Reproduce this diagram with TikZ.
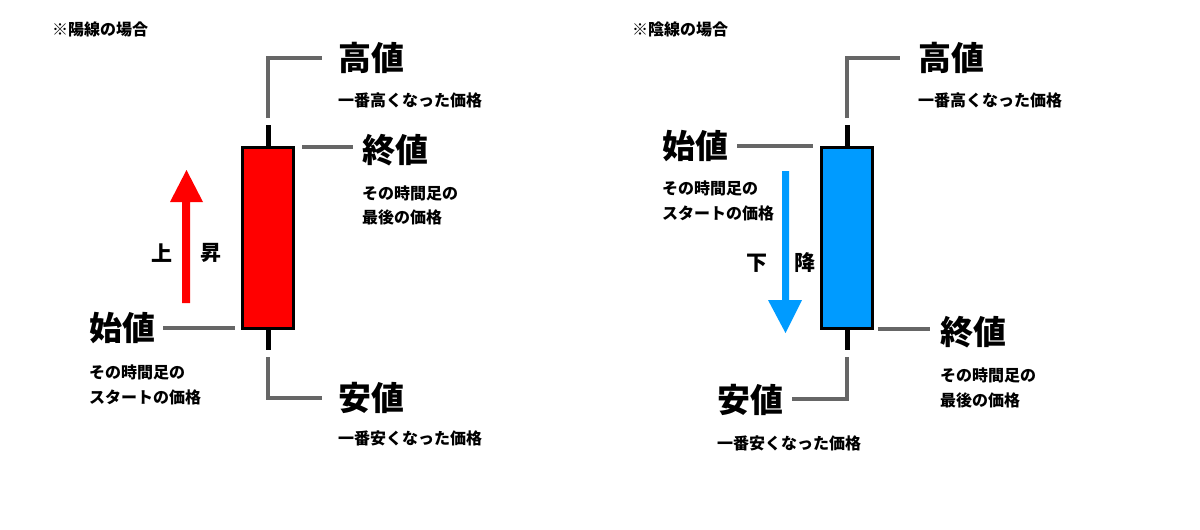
\documentclass[tikz,border=0pt]{standalone}
\usepackage{fontspec}
\setmainfont{Noto Sans CJK JP}
\definecolor{leadgray}{RGB}{102,102,102}
\definecolor{upred}{RGB}{255,0,0}
\definecolor{downblue}{RGB}{0,155,255}
\tikzset{
  big/.style={font=\fontsize{33}{33}\selectfont\bfseries, anchor=west, inner sep=0pt},
  small/.style={font=\fontsize{16}{16}\selectfont\bfseries, anchor=west, inner sep=0pt},
  ttl/.style={font=\fontsize{16}{16}\selectfont\bfseries, anchor=west, inner sep=0pt},
  dirlab/.style={font=\fontsize{21}{21}\selectfont\bfseries, inner sep=0pt},
  lead/.style={draw=leadgray, line width=4pt, line join=miter},
  wick/.style={draw=black, line width=5pt},
  body/.style={draw=black, line width=3pt, minimum width=51pt, minimum height=181pt, inner sep=0pt},
}
\begin{document}
\begin{tikzpicture}[x=1pt,y=-1pt]
\useasboundingbox[fill=white] (0,0) rectangle (1200,530);

% ---------------- left: bullish ----------------
\node[ttl] (t1) at (52,29) {※陽線の場合};
\node[body, fill=upred] (b1) at (268,238) {};
\coordinate (w1t) at (268,125);
\coordinate (w1b) at (268,350);
\draw[wick] (w1t) -- (b1.north);
\draw[wick] (b1.south) -- (w1b);

\node[big] (hi1) at (338,58) {高値};
\node[small] (hi1s) at (338,100) {一番高くなった価格};
\coordinate (hi1a) at (268,118);
\coordinate (hi1b) at (322,58);
\draw[lead] (hi1a) |- (hi1b);

\node[big] (cl1) at (362,150) {終値};
\node[small] (cl1s) at (362,193) {その時間足の};
\node[small] (cl1t) at (362,217) {最後の価格};
\coordinate (cl1a) at (302,147);
\coordinate (cl1b) at (353,147);
\draw[lead] (cl1a) -- (cl1b);

\node[big] (op1) at (89,328) {始値};
\node[small] (op1s) at (89,372) {その時間足の};
\node[small] (op1t) at (89,397) {スタートの価格};
\coordinate (op1a) at (163,328);
\coordinate (op1b) at (235,328);
\draw[lead] (op1a) -- (op1b);

\node[big] (lo1) at (338,398) {安値};
\node[small] (lo1s) at (338,438) {一番安くなった価格};
\coordinate (lo1a) at (268,357);
\coordinate (lo1b) at (322,398);
\draw[lead] (lo1a) |- (lo1b);

\fill[upred] (182,303) -- (182,202) -- (170,202) -- (186.5,170) -- (203,202) -- (190,202) -- (190,303) -- cycle;
\node[dirlab] (u1) at (162,253) {上};
\node[dirlab] (u2) at (211,253) {昇};

% ---------------- right: bearish ----------------
\node[ttl] (t2) at (632,29) {※陰線の場合};
\node[body, fill=downblue] (b2) at (847,238) {};
\coordinate (w2t) at (847,125);
\coordinate (w2b) at (847,350);
\draw[wick] (w2t) -- (b2.north);
\draw[wick] (b2.south) -- (w2b);

\node[big] (hi2) at (918,58) {高値};
\node[small] (hi2s) at (918,100) {一番高くなった価格};
\coordinate (hi2a) at (847,118);
\coordinate (hi2b) at (900,58);
\draw[lead] (hi2a) |- (hi2b);

\node[big] (op2) at (662,146) {始値};
\node[small] (op2s) at (662,188) {その時間足の};
\node[small] (op2t) at (662,213) {スタートの価格};
\coordinate (op2a) at (737,146);
\coordinate (op2b) at (813,146);
\draw[lead] (op2a) -- (op2b);

\node[big] (cl2) at (940,332) {終値};
\node[small] (cl2s) at (940,375) {その時間足の};
\node[small] (cl2t) at (940,400) {最後の価格};
\coordinate (cl2a) at (878,329);
\coordinate (cl2b) at (930,329);
\draw[lead] (cl2a) -- (cl2b);

\node[big] (lo2) at (717,400) {安値};
\node[small] (lo2s) at (717,443) {一番安くなった価格};
\coordinate (lo2a) at (847,357);
\coordinate (lo2b) at (792,399);
\draw[lead] (lo2a) |- (lo2b);

\fill[downblue] (782,171) -- (782,300) -- (768,300) -- (785.5,333) -- (802,300) -- (789,300) -- (789,171) -- cycle;
\node[dirlab] (d1) at (757,263) {下};
\node[dirlab] (d2) at (805,263) {降};
\end{tikzpicture}
\end{document}
